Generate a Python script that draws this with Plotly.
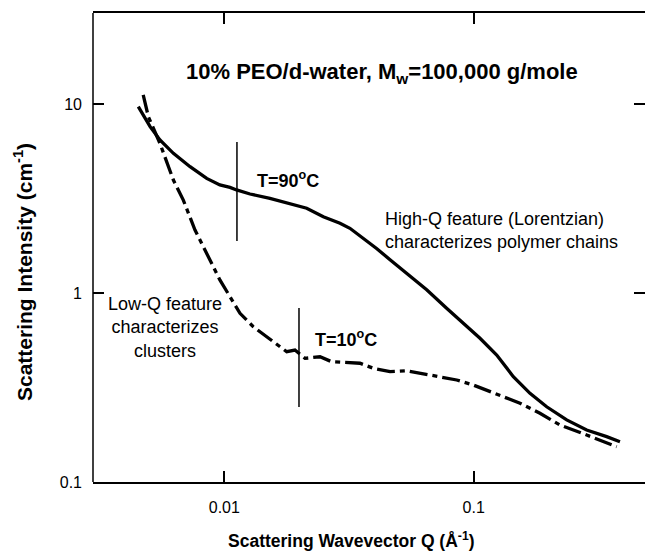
import plotly.graph_objects as go
import math

# 90 C data (solid)
q90 = [0.00452, 0.00504, 0.00552, 0.00625, 0.00729, 0.0085, 0.0096, 0.01054, 0.0112, 0.01268,
       0.01524, 0.01834, 0.0214, 0.02495, 0.0291, 0.0319, 0.0361, 0.0408, 0.0462, 0.0539,
       0.0648, 0.0779, 0.0908, 0.106, 0.1237, 0.1442, 0.1682, 0.1962, 0.236, 0.2838, 0.3414, 0.386]
i90 = [9.68, 7.59, 6.45, 5.48, 4.66, 4.04, 3.73, 3.62, 3.51, 3.34,
       3.17, 2.98, 2.81, 2.53, 2.34, 2.20, 1.95, 1.72, 1.50, 1.27,
       1.04, 0.830, 0.691, 0.576, 0.470, 0.361, 0.2946, 0.250, 0.213, 0.1884, 0.1737, 0.1634]

# 10 C data (dashed)
q10 = [0.00473, 0.00496, 0.00552, 0.00625, 0.00685, 0.00763, 0.00824, 0.0096, 0.01054, 0.01156,
       0.01307, 0.01479, 0.01622, 0.0178, 0.0192, 0.02107, 0.0242, 0.02695, 0.0305, 0.035,
       0.0396, 0.0462, 0.0539, 0.0628, 0.0733, 0.0855, 0.0996, 0.1128, 0.1275, 0.1534,
       0.1844, 0.2218, 0.2838, 0.3209, 0.3745]
i10 = [11.16, 8.57, 6.19, 3.96, 3.10, 2.154, 1.758, 1.172, 0.956, 0.781,
       0.663, 0.587, 0.531, 0.489, 0.499, 0.451, 0.460, 0.433, 0.429, 0.425,
       0.3995, 0.3834, 0.388, 0.3727, 0.358, 0.3465, 0.326, 0.3067, 0.2886, 0.261,
       0.231, 0.2002, 0.1773, 0.1668, 0.1537]

# vertical marker lines (Q, I_top, I_bottom)
mark_q = [0.01124, 0.01993]
mark_top = [6.29, 0.833]
mark_bot = [1.884, 0.249]

x_ticks = [0.01, 0.1]
x_ticklabels = ["0.01", "0.1"]
y_ticks = [0.1, 1, 10]
y_ticklabels = ["0.1", "1", "10"]

FONT = "Liberation Sans, Arial, sans-serif"

fig = go.Figure()
fig.add_trace(go.Scatter(x=q90, y=i90, mode="lines",
                         line=dict(color="black", width=3.3), showlegend=False))
fig.add_trace(go.Scatter(x=q10, y=i10, mode="lines",
                         line=dict(color="black", width=3.3, dash="18px,5px,5px,5px"),
                         showlegend=False))
for q, t, b in zip(mark_q, mark_top, mark_bot):
    fig.add_trace(go.Scatter(x=[q, q], y=[t, b], mode="lines",
                             line=dict(color="black", width=1.5), showlegend=False))

W, H = 645, 554
L, R, T, B = 93, 0, 13, 72
pw, ph = W - L - R, H - T - B

def px(x):
    return (x - L) / pw

def py(y):
    return (H - B - y) / ph

annos = [
    dict(text="<b>10% PEO/d-water, M<sub>w</sub>=100,000 g/mole</b>", x=px(382), y=py(73),
         xanchor="center", yanchor="middle", font=dict(size=22)),
    dict(text="<b>T=90<sup>o</sup>C</b>", x=px(255), y=py(179),
         xanchor="left", yanchor="middle", font=dict(size=18)),
    dict(text="<b>T=10<sup>o</sup>C</b>", x=px(313), y=py(338),
         xanchor="left", yanchor="middle", font=dict(size=18)),
    dict(text="High-Q feature (Lorentzian)<br>characterizes polymer chains", x=px(383), y=py(230),
         xanchor="left", yanchor="middle", align="left", font=dict(size=18)),
    dict(text="Low-Q feature<br>characterizes<br>clusters", x=px(165), y=py(327.5),
         xanchor="center", yanchor="middle", align="center", font=dict(size=18)),
    dict(text="<b>Scattering Wavevector Q (Å<sup>-1</sup>)</b>", x=px(351), y=py(540),
         xanchor="center", yanchor="middle", font=dict(size=17.5)),
    dict(text="<b>Scattering Intensity (cm<sup>-1</sup>)</b>", x=px(23), y=py(272),
         xanchor="center", yanchor="middle", textangle=-90, font=dict(size=21)),
]
for a in annos:
    a.update(xref="paper", yref="paper", showarrow=False)
    a["font"].update(family=FONT, color="black")

fig.update_layout(
    width=W, height=H,
    margin=dict(l=L, r=R, t=T, b=B, pad=0),
    paper_bgcolor="white", plot_bgcolor="white",
    font=dict(family=FONT, color="black", size=16),
    annotations=annos,
    shapes=[dict(type="line", xref="paper", yref="paper", x0=0, x1=0, y0=0, y1=1,
                 line=dict(color="black", width=1.5))],
    xaxis=dict(type="log", range=[math.log10(0.003) - 0.0036, -0.313],
               tickvals=x_ticks, ticktext=x_ticklabels,
               ticks="inside", ticklen=11, tickwidth=1.5, tickcolor="black",
               showline=True, linecolor="black", linewidth=1.5, mirror="ticks",
               showgrid=False, zeroline=False, ticklabelstandoff=10,
               tickfont=dict(size=16, family=FONT, color="black")),
    yaxis=dict(type="log", range=[-1, math.log10(30.3)],
               tickvals=y_ticks, ticktext=y_ticklabels,
               ticks="inside", ticklen=11, tickwidth=1.5, tickcolor="black",
               showline=False, mirror="ticks",
               showgrid=False, zeroline=False, ticklabelstandoff=10,
               tickfont=dict(size=16, family=FONT, color="black")),
)

fig.write_html("out.html")
